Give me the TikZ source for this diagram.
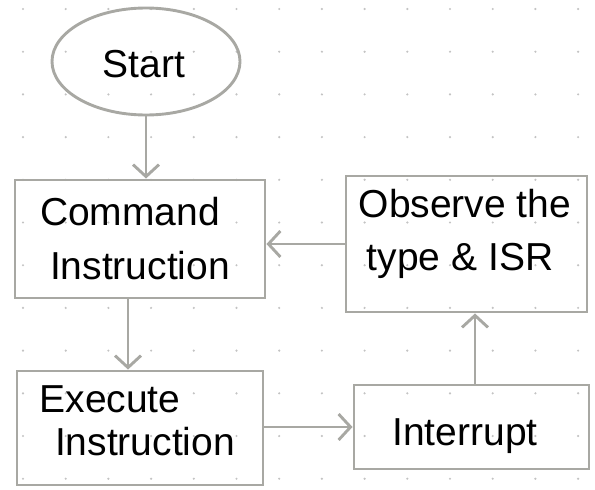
\documentclass[tikz,border=0pt]{standalone}
\usepackage{fontspec}
\setmainfont{Liberation Sans}
\usepackage{xcolor}
\usetikzlibrary{arrows.meta}
\usetikzlibrary{shapes}

\definecolor{linegray}{RGB}{168,168,163}
\definecolor{dotgray}{RGB}{195,195,195}

\tikzset{
  box/.style={draw=linegray, line width=2.9pt, rectangle, inner sep=0pt},
  oval/.style={draw=linegray, line width=2.9pt, ellipse, inner sep=0pt},
  conn/.style={draw=linegray, line width=2.9pt, -{Straight Barb[length=12pt,width=26pt,line width=2.9pt]}},
  hand/.style={anchor=base, inner sep=0.75pt, font=\fontsize{39}{44}\selectfont}
}

\begin{document}
\begin{tikzpicture}[x=1pt,y=1pt,yscale=-1,xscale=1]
\path [use as bounding box] (0,0) rectangle (595,490);

%Dot grid
\foreach \i in {0,...,13}
  \foreach \j in {0,...,11}
    \fill [dotgray] ({23+42.7*\i},{9+42.7*\j}) circle (1.2pt);

%Shape: Ellipse
\node [oval, minimum width=188, minimum height=107] (start) at (146,61.5) {};
%Shape: Rectangle
\node [box, minimum width=250, minimum height=118] (cmd) at (140,239) {};
%Shape: Rectangle
\node [box, minimum width=246, minimum height=114] (exe) at (140,428) {};
%Shape: Rectangle
\node [box, minimum width=241, minimum height=136] (obs) at (466.5,244) {};
%Shape: Rectangle
\node [box, minimum width=235, minimum height=84] (intr) at (471.5,427) {};

%Straight Lines
\draw [conn] (start.south) -- (start.south |- cmd.north);
%Straight Lines
\draw [conn] ([xshift=-12pt]cmd.south) -- ([xshift=-12pt]cmd.south |- exe.north);
%Straight Lines
\draw [conn] (intr.west -| exe.east) -- (intr.west);
%Straight Lines
\draw [conn] ([xshift=3.5pt]intr.north) -- ([xshift=3.5pt]intr.north |- obs.south);
%Straight Lines
\draw [conn] (obs.west) -- (obs.west -| cmd.east);

% Text Node
\node [hand] (starttxt) at (144,77) {Start};
% Text Node
\node [hand] (cmdtxta) at (130,225) {Command};
% Text Node
\node [hand] (cmdtxtb) at (140,279) {Instruction};
% Text Node
\node [hand] (exetxta) at (110,412) {Execute};
% Text Node
\node [hand] (exetxtb) at (145,455) {Instruction};
% Text Node
\node [hand] (obstxta) at (465,217) {Observe the};
% Text Node
\node [hand] (obstxtb) at (460,270) {type \& ISR};
% Text Node
\node [hand] (intrtxt) at (465,445) {Interrupt};

\end{tikzpicture}
\end{document}
